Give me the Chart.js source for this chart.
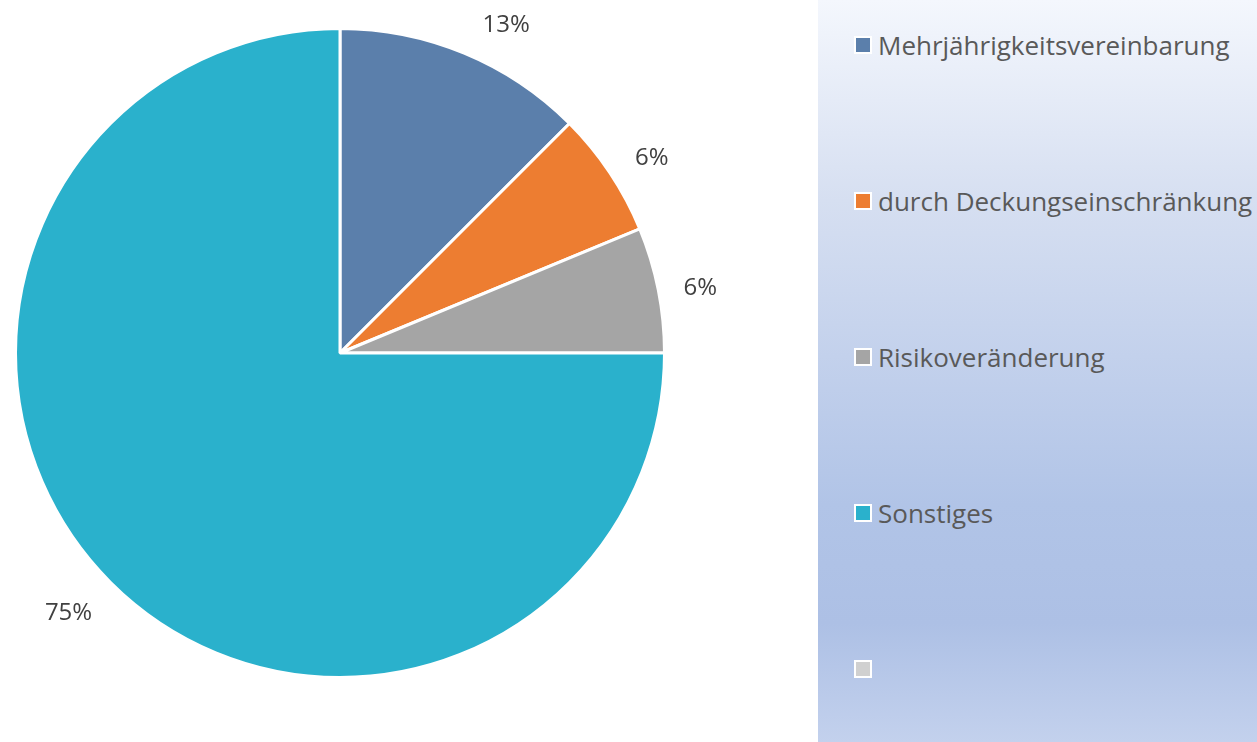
<!DOCTYPE html>
<html>
<head>
<meta charset="utf-8">
<script src="https://cdn.jsdelivr.net/npm/chart.js@4.4.1/dist/chart.umd.min.js"></script>
<style>
  html, body { margin:0; padding:0; background:#fff; }
  #wrap { position:relative; width:1257px; height:742px; overflow:hidden; }
  #pie { position:absolute; left:0; top:0; }
  #legend {
    position:absolute; left:818px; top:0; width:439px; height:742px;
    background: linear-gradient(to bottom, #f4f7fd 0%, #d6dff1 27%, #c3d1ec 48%, #b1c4e7 68%, #adc0e5 84%, #c3d1ed 100%);
    font-family:"Open Sans", sans-serif; color:#595959; font-size:26px;
  }
  .item { position:absolute; left:36px; height:30px; display:flex; align-items:center; white-space:nowrap; }
  .box { width:14px; height:14px; border:2.5px solid #fff; margin-right:6px; flex:none; }
</style>
</head>
<body>
<div id="wrap">
  <canvas id="pie"></canvas>
  <div id="legend"></div>
</div>
<script>
const categories = ['Mehrjährigkeitsvereinbarung', 'durch Deckungseinschränkung', 'Risikoveränderung', 'Sonstiges', ''];
const values = [2, 1, 1, 12, 0];
const colors = ['#5b7fab', '#ed7d31', '#a5a5a5', '#2ab1cc', '#d0d0d0'];
const legendY = [45, 201, 357, 513, 669];

const labelPlugin = {
  id: 'outerLabels',
  afterDatasetsDraw(chart) {
    const ctx = chart.ctx;
    const meta = chart.getDatasetMeta(0);
    const total = values.reduce((a, b) => a + b, 0);
    ctx.save();
    ctx.font = '24px "Open Sans", sans-serif';
    ctx.fillStyle = '#404040';
    ctx.textAlign = 'center';
    ctx.textBaseline = 'middle';
    meta.data.forEach((arc, i) => {
      if (!values[i]) return;
      const p = arc.getProps(['x', 'y', 'startAngle', 'endAngle', 'outerRadius'], true);
      const mid = (p.startAngle + p.endAngle) / 2;
      const c = Math.cos(mid), s = Math.sin(mid);
      const txt = Math.round(values[i] / total * 100) + '%';
      // label sits outside the slice edge, pushed sideways like office charts do
      const x = p.x + c * p.outerRadius + Math.sign(c) * 42;
      const y = p.y + s * p.outerRadius + s * 36 + 5;
      ctx.fillText(txt, x, y);
    });
    ctx.restore();
  }
};

const canvas = document.getElementById('pie');
canvas.width = 1257; canvas.height = 742;
const chart = new Chart(canvas.getContext('2d'), {
  type: 'pie',
  data: {
    labels: categories,
    datasets: [{
      data: values,
      backgroundColor: colors,
      borderColor: '#ffffff',
      borderWidth: 3
    }]
  },
  options: {
    responsive: false,
    animation: false,
    layout: { padding: { left: 14, right: 591, top: 27, bottom: 63 } },
    plugins: {
      legend: { display: false },
      tooltip: { enabled: false }
    }
  },
  plugins: [labelPlugin]
});

// HTML legend built from the chart's own legend items
const legendEl = document.getElementById('legend');
chart.options.plugins.legend.labels.generateLabels(chart).forEach((item, i) => {
  const div = document.createElement('div');
  div.className = 'item';
  div.style.top = (legendY[i] - 15) + 'px';
  const box = document.createElement('span');
  box.className = 'box';
  box.style.background = item.fillStyle;
  div.appendChild(box);
  div.appendChild(document.createTextNode(item.text));
  legendEl.appendChild(div);
});
</script>
</body>
</html>
